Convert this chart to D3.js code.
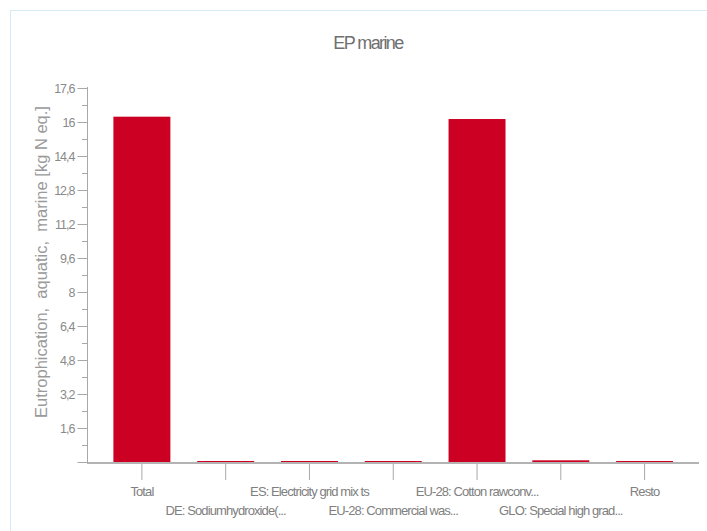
<!DOCTYPE html>
<html><head><meta charset="utf-8">
<script src="https://cdn.jsdelivr.net/npm/d3@7"></script>
<style>body{margin:0;background:#fff;}svg{display:block;font-family:"Liberation Sans",Arial,sans-serif;}</style>
</head><body><svg id="c" width="707" height="531"></svg>
<script>
const categories = ["Total","DE: Sodiumhydroxide(...","ES: Electricity grid mix ts","EU-28: Commercial was...","EU-28: Cotton rawconv...","GLO: Special high grad...","Resto"];
const values = [16.25, 0.02, 0.02, 0.02, 16.14, 0.08, 0.02];
const yTicks = [0,1.6,3.2,4.8,6.4,8,9.6,11.2,12.8,14.4,16,17.6];
const title = "EP marine";
const yLabel = "Eutrophication,  aquatic,  marine [kg N eq.]";

const svg = d3.select("#c");
svg.append("rect").attr("x",10.5).attr("y",10.5).attr("width",720).attr("height",560)
  .attr("fill","none").attr("stroke","#d5ecf7").attr("stroke-width",1);

const y = d3.scaleLinear().domain([0,17.6]).range([462,88]);
const x = d3.scaleBand().domain(categories).range([100,686.5]).paddingInner(0.32).paddingOuter(0.16);

svg.append("text").attr("x",368).attr("y",49).attr("text-anchor","middle")
  .attr("font-size",18).attr("letter-spacing","-1.6").attr("fill","#707070").text(title);

svg.append("text").attr("transform","translate(47,262) rotate(-90)").attr("text-anchor","middle")
  .attr("font-size",16.5).attr("fill","#9a9a9a").text(yLabel).style("white-space","pre");

// minor ticks
const minor = d3.range(0,17.6,0.8).filter(v=>Math.abs(v/1.6-Math.round(v/1.6))>0.1);
svg.append("g").selectAll("line").data(minor).join("line")
  .attr("x1",82).attr("x2",87).attr("y1",d=>Math.round(y(d))+0.5).attr("y2",d=>Math.round(y(d))+0.5)
  .attr("stroke","#a8a8a8");

const yAxis = svg.append("g").attr("transform","translate(87.5,0)")
  .call(d3.axisLeft(y).tickValues(yTicks).tickSize(10).tickPadding(3)
    .tickFormat(d=> d===0 ? "" : d3.format(".1~f")(d).replace(".",",")));
yAxis.select(".domain").attr("stroke","#a8a8a8").attr("d","M0,87V462");
yAxis.selectAll(".tick line").attr("stroke","#a8a8a8");
yAxis.selectAll(".tick text").attr("font-size",12.5).attr("letter-spacing","-1").attr("fill","#8a8a8a")
  .attr("font-family","Liberation Sans, Arial, sans-serif");

svg.append("line").attr("x1",87).attr("x2",699).attr("y1",463).attr("y2",463)
  .attr("stroke","#9a9a9a").attr("stroke-width",1.5);

svg.append("g").selectAll("rect").data(categories).join("rect")
  .attr("x",d=>x(d)).attr("width",x.bandwidth())
  .attr("y",(d,i)=>Math.min(y(values[i]),461)).attr("height",(d,i)=>Math.max(1,462-y(values[i])))
  .attr("fill","#cc0022");

const xAxis = svg.append("g").attr("transform","translate(0,462)")
  .call(d3.axisBottom(x).tickSize(18).tickPadding(0));
xAxis.select(".domain").remove();
xAxis.selectAll(".tick line").attr("stroke","#a8a8a8").attr("y1",2);
xAxis.selectAll(".tick text").attr("font-size",13).attr("letter-spacing","-0.9").attr("fill","#808080")
  .attr("font-family","Liberation Sans, Arial, sans-serif")
  .attr("dy",null).attr("y",(d,i)=> i%2===0 ? 34 : 53);
</script></body></html>
